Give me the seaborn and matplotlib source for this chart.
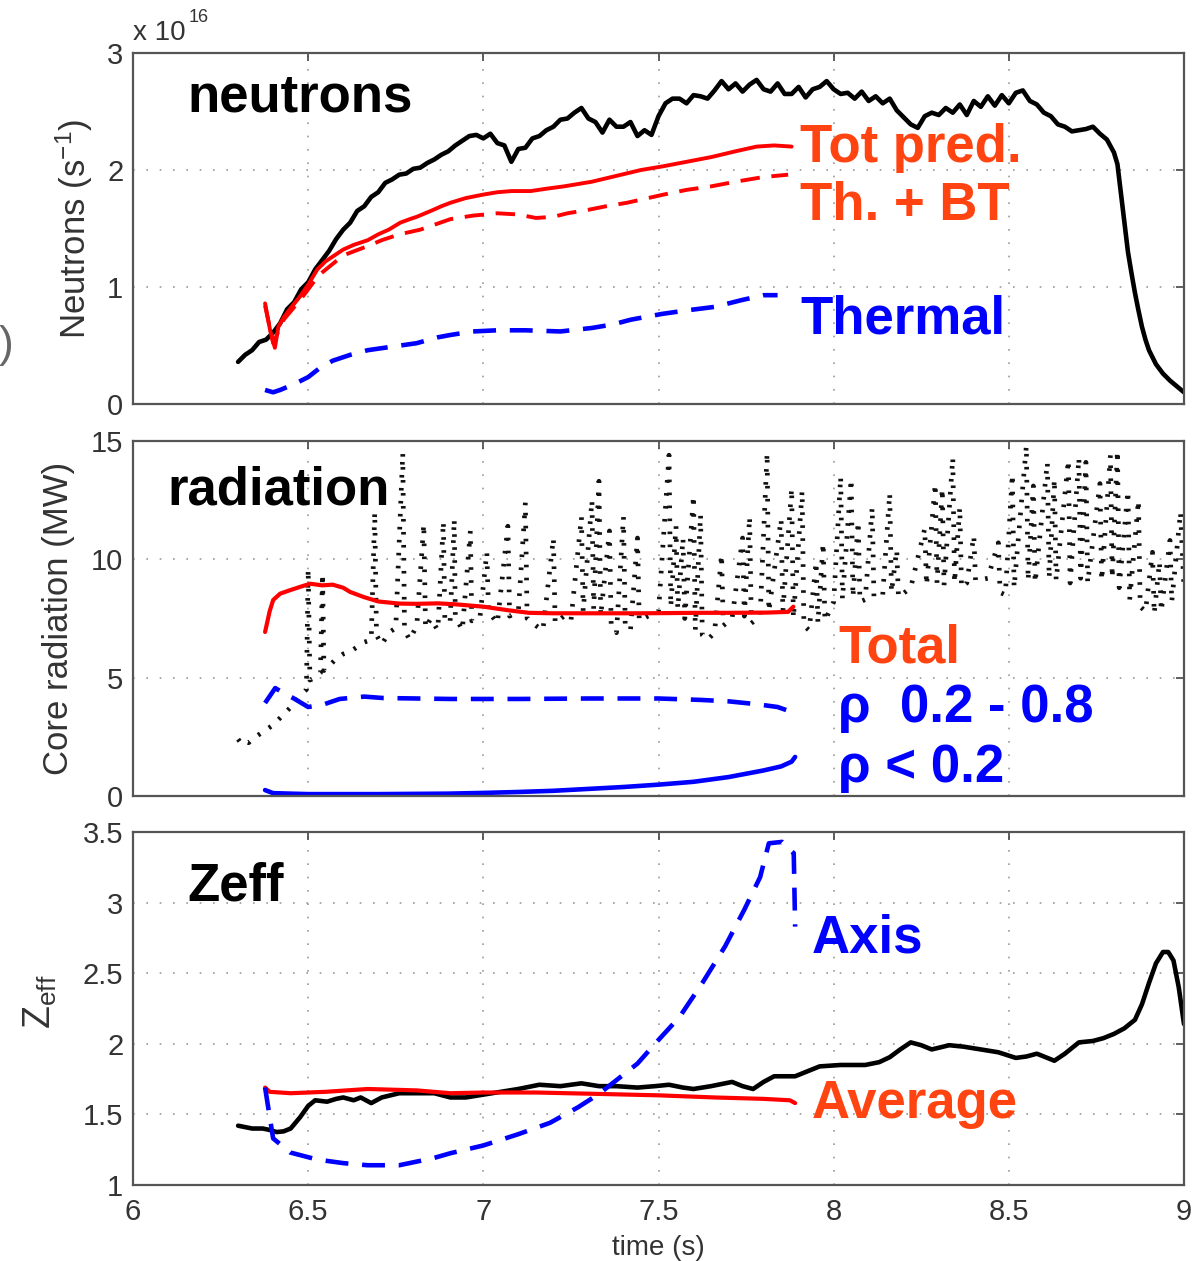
import matplotlib
matplotlib.use("Agg")
import matplotlib.pyplot as plt
import seaborn as sns
import pandas as pd

# ---------------- data ----------------
# Panel 1: neutrons (units of 1e16 /s)
neut_meas_t = [6.30, 6.32, 6.34, 6.36, 6.38, 6.40, 6.42, 6.44, 6.46, 6.48, 6.50, 6.52, 6.54, 6.56, 6.58,
               6.60, 6.62, 6.64, 6.66, 6.68, 6.70, 6.72, 6.74, 6.76, 6.78, 6.80, 6.82, 6.84, 6.86, 6.88,
               6.90, 6.92, 6.94, 6.96, 6.98, 7.00, 7.02, 7.04, 7.06, 7.08, 7.10, 7.12, 7.14, 7.16, 7.18,
               7.20, 7.22, 7.24, 7.26, 7.28, 7.30, 7.32, 7.34, 7.36, 7.38, 7.40, 7.42, 7.44, 7.46, 7.48,
               7.50, 7.52, 7.54, 7.56, 7.58, 7.60, 7.62, 7.64, 7.66, 7.68, 7.70, 7.72, 7.74, 7.76, 7.78,
               7.80, 7.82, 7.84, 7.86, 7.88, 7.90, 7.92, 7.94, 7.96, 7.98, 8.00, 8.02, 8.04, 8.06, 8.08,
               8.10, 8.12, 8.14, 8.16, 8.18, 8.20, 8.22, 8.24, 8.26, 8.28, 8.30, 8.32, 8.34, 8.36, 8.38,
               8.40, 8.42, 8.44, 8.46, 8.48, 8.50, 8.52, 8.54, 8.56, 8.58, 8.60, 8.62, 8.64, 8.66, 8.68,
               8.70, 8.72, 8.74, 8.76, 8.78, 8.80, 8.81, 8.82, 8.83, 8.84, 8.85, 8.86, 8.87, 8.88, 8.89,
               8.90, 8.92, 8.94, 8.96, 8.98, 9.00]
neut_meas_v = [0.36, 0.42, 0.46, 0.53, 0.55, 0.61, 0.69, 0.81, 0.87, 0.98, 1.04, 1.15, 1.23, 1.31, 1.41,
               1.49, 1.55, 1.65, 1.69, 1.77, 1.81, 1.89, 1.92, 1.96, 1.97, 2.01, 2.02, 2.06, 2.09, 2.13,
               2.16, 2.21, 2.25, 2.29, 2.30, 2.27, 2.31, 2.23, 2.21, 2.07, 2.18, 2.19, 2.27, 2.29, 2.34,
               2.37, 2.43, 2.44, 2.49, 2.53, 2.44, 2.41, 2.32, 2.43, 2.37, 2.37, 2.41, 2.29, 2.34, 2.30,
               2.46, 2.57, 2.61, 2.61, 2.57, 2.64, 2.63, 2.61, 2.68, 2.76, 2.69, 2.74, 2.67, 2.73, 2.77,
               2.69, 2.67, 2.74, 2.65, 2.65, 2.71, 2.62, 2.69, 2.71, 2.76, 2.69, 2.65, 2.66, 2.61, 2.67,
               2.59, 2.63, 2.57, 2.61, 2.51, 2.45, 2.39, 2.36, 2.46, 2.49, 2.47, 2.53, 2.49, 2.56, 2.47,
               2.59, 2.54, 2.63, 2.55, 2.64, 2.57, 2.66, 2.68, 2.59, 2.56, 2.49, 2.46, 2.39, 2.37, 2.33,
               2.34, 2.35, 2.37, 2.31, 2.26, 2.15, 2.05, 1.80, 1.55, 1.30, 1.12, 0.95, 0.80, 0.66, 0.55,
               0.46, 0.34, 0.26, 0.20, 0.15, 0.10]

tot_pred_t = [6.377, 6.392, 6.405, 6.415, 6.43, 6.45, 6.477, 6.50, 6.526, 6.55, 6.58, 6.60, 6.63, 6.67,
              6.70, 6.73, 6.763, 6.79, 6.81, 6.85, 6.88, 6.906, 6.95, 7.00, 7.04, 7.08, 7.135, 7.18, 7.23,
              7.31, 7.38, 7.45, 7.51, 7.58, 7.65, 7.72, 7.78, 7.83, 7.88]
tot_pred_v = [0.86, 0.62, 0.48, 0.66, 0.74, 0.82, 0.92, 1.02, 1.15, 1.22, 1.28, 1.32, 1.36, 1.40,
              1.45, 1.49, 1.55, 1.58, 1.60, 1.65, 1.69, 1.72, 1.76, 1.79, 1.81, 1.82, 1.82, 1.84, 1.86,
              1.90, 1.95, 2.00, 2.03, 2.07, 2.11, 2.16, 2.20, 2.21, 2.20]

th_bt_t = [6.377, 6.40, 6.43, 6.48, 6.53, 6.60, 6.67, 6.71, 6.76, 6.82, 6.906, 6.97, 7.04, 7.10, 7.15,
           7.20, 7.24, 7.30, 7.35, 7.41, 7.47, 7.53, 7.58, 7.65, 7.72, 7.80, 7.87]
th_bt_v = [0.84, 0.52, 0.72, 0.90, 1.10, 1.27, 1.35, 1.40, 1.45, 1.49, 1.58, 1.61, 1.63, 1.62, 1.59,
           1.60, 1.63, 1.66, 1.69, 1.72, 1.76, 1.80, 1.83, 1.86, 1.90, 1.94, 1.96]

thermal_t = [6.377, 6.40, 6.42, 6.46, 6.50, 6.53, 6.57, 6.62, 6.67, 6.74, 6.81, 6.87, 6.906, 6.97, 7.04,
             7.12, 7.22, 7.31, 7.37, 7.42, 7.51, 7.58, 7.66, 7.74, 7.80, 7.84]
thermal_v = [0.12, 0.10, 0.12, 0.17, 0.23, 0.30, 0.37, 0.42, 0.46, 0.49, 0.52, 0.57, 0.59, 0.62, 0.63,
             0.63, 0.62, 0.65, 0.68, 0.72, 0.77, 0.80, 0.83, 0.89, 0.93, 0.93]

# Panel 2: core radiation (MW)
rad_meas_t = [6.30, 6.31, 6.32, 6.33, 6.34, 6.36, 6.38, 6.40, 6.42, 6.44, 6.46, 6.48, 6.495, 6.50, 6.505,
              6.52, 6.535, 6.541, 6.545, 6.56, 6.58, 6.60, 6.62, 6.64, 6.66, 6.68, 6.69, 6.695, 6.71, 6.73,
              6.75, 6.77, 6.775, 6.79, 6.81, 6.83, 6.835, 6.85, 6.87, 6.886, 6.89, 6.905, 6.917, 6.92, 6.94,
              6.963, 6.967, 6.99, 7.01, 7.015, 7.04, 7.07, 7.075, 7.10, 7.12, 7.125, 7.15, 7.17, 7.20, 7.205,
              7.23, 7.25, 7.28, 7.285, 7.31, 7.315, 7.33, 7.335, 7.36, 7.365, 7.38, 7.40, 7.405, 7.42, 7.44,
              7.445, 7.47, 7.50, 7.53, 7.535, 7.55, 7.555, 7.57, 7.575, 7.60, 7.605, 7.62, 7.625, 7.64, 7.66,
              7.68, 7.685, 7.71, 7.74, 7.745, 7.76, 7.765, 7.79, 7.81, 7.815, 7.85, 7.855, 7.88, 7.885, 7.91,
              7.915, 7.93, 7.95, 7.955, 7.97, 7.975, 8.00, 8.02, 8.025, 8.05, 8.055, 8.07, 8.075, 8.09, 8.11,
              8.115, 8.14, 8.16, 8.165, 8.18, 8.185, 8.22, 8.26, 8.265, 8.29, 8.295, 8.31, 8.315, 8.34, 8.345,
              8.36, 8.365, 8.38, 8.40, 8.405, 8.44, 8.47, 8.475, 8.49, 8.51, 8.515, 8.55, 8.555, 8.57, 8.575,
              8.61, 8.615, 8.63, 8.635, 8.67, 8.675, 8.70, 8.705, 8.72, 8.725, 8.76, 8.765, 8.79, 8.795, 8.81,
              8.815, 8.84, 8.845, 8.87, 8.875, 8.89, 8.91, 8.915, 8.93, 8.935, 8.96, 8.965, 8.99, 9.00]
rad_meas_v = [2.4, 2.2, 2.3, 2.25, 2.4, 2.6, 2.8, 3.0, 3.3, 3.6, 3.9, 4.3, 4.5, 9.6, 4.9,
              5.0, 5.2, 9.4, 5.3, 5.5, 5.8, 6.0, 6.1, 6.3, 6.5, 6.6, 12.0, 6.8, 6.4, 6.9,
              7.1, 14.5, 7.0, 6.6, 7.2, 11.5, 7.1, 7.5, 7.0, 11.6, 7.5, 7.3, 11.7, 7.6, 7.0,
              11.2, 7.4, 7.5, 10.3, 7.8, 7.3, 11.4, 7.6, 7.8, 12.4, 7.5, 7.2, 7.0, 10.9, 7.3,
              7.6, 7.4, 11.8, 7.8, 12.5, 7.9, 13.3, 7.6, 11.2, 7.2, 6.9, 11.8, 7.2, 7.0, 10.9,
              7.4, 7.6, 7.8, 14.4, 8.0, 11.4, 7.9, 10.9, 7.5, 12.7, 7.0, 11.9, 6.8, 6.6, 6.9,
              10.2, 7.2, 7.5, 10.9, 7.6, 11.8, 7.3, 7.6, 14.5, 7.8, 11.7, 7.8, 13.0, 7.5, 12.9,
              7.2, 7.0, 9.9, 7.3, 10.7, 7.4, 8.2, 13.5, 8.3, 13.4, 8.4, 11.6, 8.2, 8.3, 12.2,
              8.4, 8.5, 12.8, 8.6, 10.4, 8.4, 8.8, 11.3, 8.9, 13.2, 9.0, 13.0, 8.9, 14.3, 9.0,
              12.2, 8.8, 9.0, 11.0, 9.1, 9.2, 10.7, 8.6, 8.5, 13.6, 8.8, 14.8, 9.1, 13.1, 9.0,
              14.1, 9.2, 13.4, 9.1, 14.2, 9.0, 14.3, 9.2, 14.1, 9.0, 13.2, 9.1, 14.4, 9.2, 14.6,
              8.8, 12.9, 8.3, 12.5, 8.0, 7.8, 10.3, 7.7, 9.9, 7.8, 10.8, 8.2, 12.0, 8.8]

rad_total_t = [6.377, 6.39, 6.40, 6.42, 6.449, 6.48, 6.506, 6.54, 6.57, 6.60, 6.62, 6.66, 6.70, 6.76,
               6.81, 6.87, 6.92, 7.00, 7.07, 7.13, 7.20, 7.33, 7.45, 7.62, 7.70, 7.81, 7.87, 7.885]
rad_total_v = [6.93, 7.8, 8.28, 8.55, 8.70, 8.85, 8.97, 8.90, 8.93, 8.80, 8.62, 8.40, 8.22, 8.13,
               8.12, 8.14, 8.10, 8.00, 7.85, 7.74, 7.72, 7.72, 7.72, 7.74, 7.74, 7.75, 7.78, 8.0]

rad_mid_t = [6.377, 6.406, 6.43, 6.457, 6.50, 6.54, 6.59, 6.66, 6.714, 6.906, 7.10, 7.30, 7.50, 7.62,
             7.70, 7.78, 7.84, 7.89]
rad_mid_v = [3.93, 4.56, 4.35, 4.14, 3.76, 3.85, 4.10, 4.20, 4.14, 4.10, 4.10, 4.12, 4.12, 4.06,
             4.00, 3.88, 3.76, 3.50]

rad_core_t = [6.377, 6.40, 6.50, 6.70, 6.90, 7.00, 7.10, 7.20, 7.30, 7.40, 7.50, 7.60, 7.70, 7.80,
              7.85, 7.88, 7.89]
rad_core_v = [0.25, 0.12, 0.08, 0.08, 0.10, 0.13, 0.17, 0.22, 0.30, 0.38, 0.48, 0.60, 0.80, 1.08,
              1.25, 1.45, 1.65]

# Panel 3: Zeff
zeff_meas_t = [6.30, 6.32, 6.34, 6.37, 6.39, 6.41, 6.43, 6.45, 6.477, 6.50, 6.52, 6.554, 6.58, 6.60,
               6.63, 6.65, 6.68, 6.71, 6.76, 6.81, 6.86, 6.906, 6.95, 7.00, 7.05, 7.10, 7.16, 7.22,
               7.28, 7.33, 7.38, 7.44, 7.49, 7.53, 7.57, 7.60, 7.65, 7.71, 7.74, 7.77, 7.80, 7.83,
               7.86, 7.89, 7.93, 7.96, 8.02, 8.09, 8.13, 8.16, 8.19, 8.22, 8.25, 8.28, 8.33, 8.37,
               8.42, 8.47, 8.52, 8.55, 8.58, 8.61, 8.63, 8.66, 8.70, 8.74, 8.77, 8.80, 8.83, 8.86,
               8.88, 8.90, 8.92, 8.94, 8.955, 8.97, 8.985, 9.00]
zeff_meas_v = [1.42, 1.41, 1.40, 1.40, 1.39, 1.375, 1.38, 1.40, 1.48, 1.56, 1.60, 1.59, 1.61, 1.62,
               1.60, 1.62, 1.58, 1.62, 1.65, 1.65, 1.65, 1.62, 1.62, 1.64, 1.66, 1.68, 1.71, 1.70,
               1.72, 1.70, 1.70, 1.69, 1.70, 1.71, 1.69, 1.68, 1.70, 1.73, 1.70, 1.68, 1.73, 1.77,
               1.77, 1.77, 1.81, 1.84, 1.85, 1.85, 1.87, 1.905, 1.96, 2.01, 1.99, 1.96, 1.99, 1.98,
               1.96, 1.94, 1.90, 1.91, 1.93, 1.90, 1.88, 1.93, 2.01, 2.02, 2.04, 2.07, 2.11, 2.17,
               2.28, 2.43, 2.57, 2.65, 2.65, 2.59, 2.40, 2.14]

zeff_avg_t = [6.377, 6.39, 6.45, 6.55, 6.67, 6.81, 6.906, 7.00, 7.15, 7.33, 7.50, 7.66, 7.80, 7.875, 7.89]
zeff_avg_v = [1.69, 1.66, 1.65, 1.66, 1.68, 1.67, 1.65, 1.655, 1.655, 1.645, 1.635, 1.62, 1.61, 1.60, 1.58]

zeff_axis_t = [6.377, 6.40, 6.449, 6.526, 6.60, 6.669, 6.76, 6.857, 6.906, 7.00, 7.10, 7.19, 7.27, 7.33,
               7.44, 7.49, 7.56, 7.625, 7.69, 7.745, 7.79, 7.815, 7.853, 7.886, 7.89]
zeff_axis_v = [1.69, 1.33, 1.23, 1.18, 1.155, 1.14, 1.14, 1.19, 1.225, 1.28, 1.36, 1.44, 1.55, 1.645,
               1.86, 2.00, 2.19, 2.43, 2.69, 2.95, 3.18, 3.42, 3.43, 3.35, 2.83]

xticks = [6, 6.5, 7, 7.5, 8, 8.5, 9]
xtick_labels = ["6", "6.5", "7", "7.5", "8", "8.5", "9"]
yticks1 = [0, 1, 2, 3]
yticks2 = [0, 5, 10, 15]
yticks3 = [1, 1.5, 2, 2.5, 3, 3.5]
ytick_labels3 = ["1", "1.5", "2", "2.5", "3", "3.5"]

# ---------------- style ----------------
sns.set_style("white")
plt.rcParams["font.family"] = ["Liberation Sans", "DejaVu Sans"]
plt.rcParams["mathtext.fontset"] = "custom"
plt.rcParams["mathtext.rm"] = "Liberation Sans"
plt.rcParams["mathtext.it"] = "Liberation Sans:italic"
plt.rcParams["mathtext.bf"] = "Liberation Sans:bold"

W, H = 1194, 1261
fig = plt.figure(figsize=(W / 100, H / 100), dpi=100)
fig.patch.set_facecolor("white")

RED = "#ff0000"
BLUE = "#0000ff"
ORANGE = "#ff4411"
TXT = "#333333"
GRID = dict(color="#9a9a9a", linestyle=(0, (1, 7)), linewidth=1.2)


def make_ax(top_px, bot_px):
    left, right = 133, 1184
    ax = fig.add_axes([left / W, 1 - bot_px / H, (right - left) / W, (bot_px - top_px) / H])
    ax.set_xlim(6, 9)
    ax.set_xticks(xticks)
    ax.grid(True, **GRID)
    ax.tick_params(direction="in", length=6, width=1.2, top=True, right=True,
                   colors="#444444", labelcolor=TXT, labelsize=21, pad=7)
    for s in ax.spines.values():
        s.set_color("#555555")
        s.set_linewidth(1.6)
        s.set_visible(True)
    ax.set_facecolor("white")
    return ax


def line(ax, t, v, color, lw, ls="-", cap="round"):
    df = pd.DataFrame({"t": t, "v": v})
    sns.lineplot(data=df, x="t", y="v", ax=ax, color=color, linewidth=lw, linestyle=ls,
                 sort=False, estimator=None, legend=False,
                 dash_capstyle=cap, solid_capstyle="round", solid_joinstyle="round")


DASH = (0, (5, 3))

# Panel 1
ax1 = make_ax(53, 404)
line(ax1, neut_meas_t, neut_meas_v, "black", 3.3)
line(ax1, tot_pred_t, tot_pred_v, RED, 2.8)
line(ax1, th_bt_t, th_bt_v, RED, 2.8, DASH, "butt")
line(ax1, thermal_t, thermal_v, BLUE, 3.3, DASH, "butt")
ax1.set_ylim(0, 3)
ax1.set_yticks(yticks1)
ax1.set_xticklabels([])
ax1.set_xlabel("")
ax1.set_ylabel(r"Neutrons (s$^{-1}$)", fontsize=25, color=TXT, va="center")
ax1.yaxis.set_label_coords(-0.056, 0.5)

# Panel 2
ax2 = make_ax(441, 796)
line(ax2, rad_meas_t, rad_meas_v, "#111111", 3.4, (0, (0.55, 2.2)), "butt")
line(ax2, rad_total_t, rad_total_v, RED, 3.0)
line(ax2, rad_mid_t, rad_mid_v, BLUE, 3.3, DASH, "butt")
line(ax2, rad_core_t, rad_core_v, BLUE, 3.3)
ax2.set_ylim(0, 15)
ax2.set_yticks(yticks2)
ax2.set_xticklabels([])
ax2.set_xlabel("")
ax2.set_ylabel("Core radiation (MW)", fontsize=25, color=TXT, va="center")
ax2.yaxis.set_label_coords(-0.071, 0.5)

# Panel 3
ax3 = make_ax(832, 1185)
line(ax3, zeff_meas_t, zeff_meas_v, "black", 3.3)
line(ax3, zeff_avg_t, zeff_avg_v, RED, 3.0)
line(ax3, zeff_axis_t, zeff_axis_v, BLUE, 3.3, DASH, "butt")
ax3.set_ylim(1, 3.5)
ax3.set_yticks(yticks3)
ax3.set_yticklabels(ytick_labels3)
ax3.set_xticklabels(xtick_labels)
ax3.tick_params(axis="x", pad=9)
ax3.set_xlabel("time (s)", fontsize=20, color=TXT, va="baseline")
ax3.xaxis.set_label_coords(0.5, -(1255 - 1185) / 353)
ax3.set_ylabel(r"$\mathrm{Z}_{\mathrm{eff}}$", fontsize=27, color=TXT, va="center")
ax3.yaxis.set_label_coords(-0.088, 0.52)

# annotations
BIG = 38
kw = dict(fontsize=BIG, fontweight="bold", va="baseline", ha="left")
ax1.text(0.0514, 0.832, "neutrons", color="black", transform=ax1.transAxes, **kw)
ax1.text(0.6346, 0.689, "Tot pred.", color=ORANGE, transform=ax1.transAxes, **kw)
ax1.text(0.6346, 0.524, "Th. + BT", color=ORANGE, transform=ax1.transAxes, **kw)
ax1.text(0.6346, 0.202, "Thermal", color=BLUE, transform=ax1.transAxes, **kw)

ax2.text(0.0323, 0.820, "radiation", color="black", transform=ax2.transAxes, **kw)
ax2.text(0.6708, 0.375, "Total", color=ORANGE, transform=ax2.transAxes, **kw)
ax2.text(0.6708, 0.209, "ρ  0.2 - 0.8", color=BLUE, transform=ax2.transAxes, **kw)
ax2.text(0.6708, 0.039, "ρ < 0.2", color=BLUE, transform=ax2.transAxes, **kw)

ax3.text(0.0514, 0.807, "Zeff", color="black", transform=ax3.transAxes, **kw)
ax3.text(0.646, 0.660, "Axis", color=BLUE, transform=ax3.transAxes, **kw)
ax3.text(0.646, 0.190, "Average", color=ORANGE, transform=ax3.transAxes, **kw)

# exponent marker and stray bracket
fig.text(133 / W, 1 - 40 / H, "x 10", fontsize=20, color=TXT, va="baseline", ha="left")
fig.text(189 / W, 1 - 22 / H, "16", fontsize=13, color=TXT, va="baseline", ha="left")
fig.text(13 / W, 1 - 345 / H, ")", fontsize=32, color="#666666", va="center", ha="right")

fig.savefig("out.png", dpi=100, facecolor="white")
